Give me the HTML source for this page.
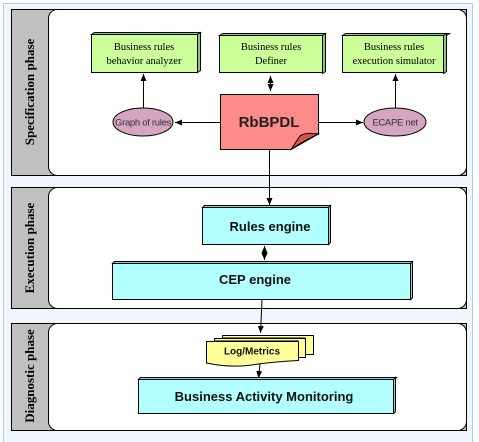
<!DOCTYPE html>
<html><head><meta charset="utf-8"><style>
html,body{margin:0;padding:0;background:#fff;width:479px;height:442px;overflow:hidden}
svg{display:block}
</style></head><body>
<svg width="479" height="442" xmlns="http://www.w3.org/2000/svg" font-family="Liberation Sans, sans-serif">
<defs>
<marker id="a" markerWidth="8" markerHeight="8" refX="7" refY="4" orient="auto" markerUnits="userSpaceOnUse"><path d="M0,1 L7,4 L0,7 z" fill="#000"/></marker>
<marker id="b" markerWidth="8" markerHeight="8" refX="1" refY="4" orient="auto" markerUnits="userSpaceOnUse"><path d="M8,1 L1,4 L8,7 z" fill="#000"/></marker>
</defs>
<rect x="3.5" y="3.5" width="469" height="440" fill="#f1f5fc" stroke="#a8d0f5"/>
<!-- panels -->
<g stroke="#000" stroke-width="1">
<rect x="11.5" y="9.5" width="455" height="166" fill="#c0c0c0"/>
<rect x="48.5" y="9.5" width="418" height="166" rx="9" fill="#fff"/>
<rect x="11.5" y="187.5" width="455" height="121" fill="#c0c0c0"/>
<rect x="48.5" y="187.5" width="418" height="121" rx="9" fill="#fff"/>
<rect x="11.5" y="323.5" width="455" height="107" fill="#c0c0c0"/>
<rect x="48.5" y="323.5" width="418" height="107" rx="9" fill="#fff"/>
</g>
<g font-family="Liberation Serif, serif" font-weight="bold" font-size="13" fill="#000" text-anchor="middle">
<text transform="translate(34,92) rotate(-90)">Specification phase</text>
<text transform="translate(34,248) rotate(-90)">Execution phase</text>
<text transform="translate(34,376) rotate(-90)">Diagnostic phase</text>
</g>
<!-- green boxes -->
<g stroke="#000" stroke-width="1">
<g fill="#8fc870"><path d="M91.5,34.5 l3,-2 h106 l-3,2 z"/><path d="M197.5,34.5 l3,-2 v38 l-3,2 z"/>
<path d="M219.5,35.5 l3,-2 h103 l-3,2 z"/><path d="M322.5,35.5 l3,-2 v38 l-3,2 z"/>
<path d="M342.5,35.5 l3,-2 h104 l-3,2 z"/><path d="M443.5,35.5 l3,-2 v38 l-3,2 z"/></g>
<rect x="91.5" y="34.5" width="106" height="38" fill="#ccff99"/>
<rect x="219.5" y="35.5" width="103" height="37" fill="#ccff99"/>
<rect x="342.5" y="35.5" width="101" height="37" fill="#ccff99"/>
</g>
<g font-family="Liberation Serif, serif" font-size="10.5" text-anchor="middle">
<text x="144" y="50">Business rules</text><text x="144" y="64">behavior analyzer</text>
<text x="271" y="50">Business rules</text><text x="271" y="64">Definer</text>
<text x="394" y="50">Business rules</text><text x="394" y="64">execution simulator</text>
</g>
<!-- ellipses -->
<ellipse cx="143" cy="122" rx="30" ry="14" fill="#d4a6c0" stroke="#000"/>
<ellipse cx="395" cy="122" rx="31" ry="14" fill="#d4a6c0" stroke="#000"/>
<text x="143" y="125.5" font-size="9.5" text-anchor="middle" fill="#333" letter-spacing="-0.3">Graph of rules</text>
<text x="395" y="125.5" font-size="9.5" text-anchor="middle" fill="#333" letter-spacing="-0.3">ECAPE net</text>
<!-- RbBPDL -->
<path d="M220.5,94.5 H318.5 V134 L291,149.5 H220.5 Z" fill="#ff8a8a" stroke="#000"/>
<path d="M318.5,134 Q305,132 300,136 L291,149.5 Q305,140 318.5,134 Z" fill="#e05050" stroke="#000"/>
<text x="269" y="127" font-size="15" font-weight="bold" text-anchor="middle" fill="#222">RbBPDL</text>
<!-- arrows spec -->
<g stroke="#000" stroke-width="1" fill="none">
<line x1="143.5" y1="108" x2="143.5" y2="74" marker-end="url(#a)"/>
<line x1="395.5" y1="108" x2="395.5" y2="74" marker-end="url(#a)"/>
<line x1="270.5" y1="76" x2="270.5" y2="91" marker-end="url(#a)" marker-start="url(#b)"/>
<line x1="220" y1="122.5" x2="175" y2="122.5" marker-end="url(#a)"/>
<line x1="318" y1="122.5" x2="363" y2="122.5" marker-end="url(#a)"/>
<line x1="269.5" y1="150" x2="269.5" y2="205" marker-end="url(#a)"/>
<line x1="264.5" y1="246" x2="264.5" y2="260" marker-end="url(#a)" marker-start="url(#b)"/>
<line x1="262" y1="300" x2="260.5" y2="333" marker-end="url(#a)"/>
<line x1="260" y1="364" x2="258.5" y2="378" marker-end="url(#a)"/>
</g>
<!-- cyan boxes -->
<g stroke="#000" stroke-width="1">
<g fill="#7fd8dc"><path d="M202.5,207.5 l2,-2 h126 l-2,2 z"/><path d="M328.5,207.5 l2,-2 v37 l-2,2 z"/>
<path d="M112.5,263.5 l2,-2 h298 l-2,2 z"/><path d="M410.5,263.5 l2,-2 v36 l-2,2 z"/>
<path d="M138.5,379.5 l2,-2 h256 l-2,2 z"/><path d="M393.5,379.5 l2,-2 v34 l-2,2 z"/></g>
<rect x="202.5" y="207.5" width="126" height="37" fill="#b3ffff"/>
<rect x="112.5" y="263.5" width="298" height="36" fill="#b3ffff"/>
<rect x="138.5" y="379.5" width="255" height="34" fill="#b3ffff"/>
</g>
<g font-weight="bold" text-anchor="middle" fill="#111">
<text x="270" y="231" font-size="13">Rules  engine</text>
<text x="255" y="284" font-size="13">CEP  engine</text>
<text x="264" y="401" font-size="13">Business Activity Monitoring</text>
</g>
<!-- log/metrics -->
<g stroke="#000" fill="#ffff99">
<path d="M222.5,335.5 H313.5 V354.5 H305"/>
<path d="M222.5,335.5 H313.5 V354.5 H305 V338 H222.5 Z"/>
<path d="M214.5,338.5 H305.5 V357.5 H298 V341 H214.5 Z"/>
<path d="M206.5,341.5 H298.5 V360.5 Q270,362 252,365 Q230,368 206.5,363 Z"/>
</g>
<text x="252" y="354.5" font-size="10" font-weight="bold" text-anchor="middle" fill="#111">Log/Metrics</text>
</svg>
</body></html>
